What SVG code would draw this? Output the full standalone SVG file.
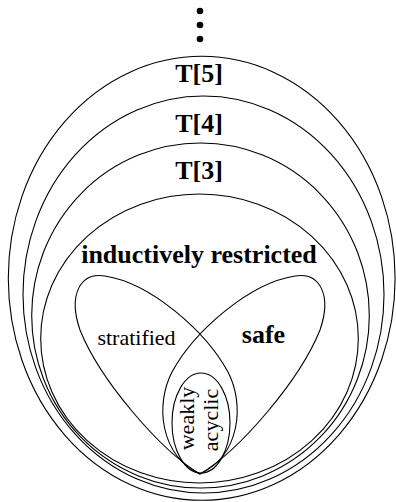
<svg xmlns="http://www.w3.org/2000/svg" width="396" height="502" viewBox="0 0 396 502">
<style>
.s{fill:none;stroke:#000;stroke-width:1.1}
text{font-family:'Liberation Serif','Times New Roman',Times,'DejaVu Serif',serif;text-anchor:middle;fill:#000}
.b{font-weight:bold;font-size:26px}
.r{font-weight:normal;font-size:22px}
</style>
<rect width="396" height="502" fill="#fff"/>
<g id="dots">
<circle cx="200" cy="11" r="3.3"/>
<circle cx="200" cy="25" r="3.3"/>
<circle cx="200" cy="39" r="3.3"/>
</g>
<g id="T5">
<ellipse class="s" cx="201.7" cy="278.3" rx="193.4" ry="222"/>
<text class="b" x="199" y="82" font-family="Liberation Serif, serif">T[5]</text>
</g>
<g id="T4">
<ellipse class="s" cx="203.5" cy="294.5" rx="180.5" ry="198.5"/>
<text class="b" x="199" y="131.5" font-family="Liberation Serif, serif">T[4]</text>
</g>
<g id="T3">
<ellipse class="s" cx="200.5" cy="315.5" rx="168.8" ry="172.5"/>
<text class="b" x="199" y="178.5" font-family="Liberation Serif, serif">T[3]</text>
</g>
<g id="inductively">
<ellipse class="s" cx="199.5" cy="338.5" rx="158.8" ry="144.5"/>
<text class="b" x="199" y="263" font-family="Liberation Serif, serif">inductively restricted</text>
</g>
<g id="stratified">
<path class="s" d="M200,474 C160,450 100,380 80,330 C68,295 80,272 105,276 C150,283 205,330 228,372 C245,405 240,455 200,474 Z"/>
<text class="r" x="136.5" y="345" font-family="Liberation Serif, serif">stratified</text>
</g>
<g id="safe">
<path class="s" d="M200,474 C240,450 300,380 320,330 C332,295 320,272 295,276 C250,283 195,330 172,372 C155,405 160,455 200,474 Z"/>
<text class="b" x="263.5" y="342.5" font-family="Liberation Serif, serif">safe</text>
</g>
<g id="weakly">
<ellipse class="s" cx="201" cy="423" rx="29" ry="50"/>
<text class="r" transform="translate(193.5,418.5) rotate(-90)" font-family="Liberation Serif, serif">weakly</text>
<text class="r" transform="translate(218,420) rotate(-90)" font-family="Liberation Serif, serif">acyclic</text>
</g>
<g id="connectors"></g>
</svg>
